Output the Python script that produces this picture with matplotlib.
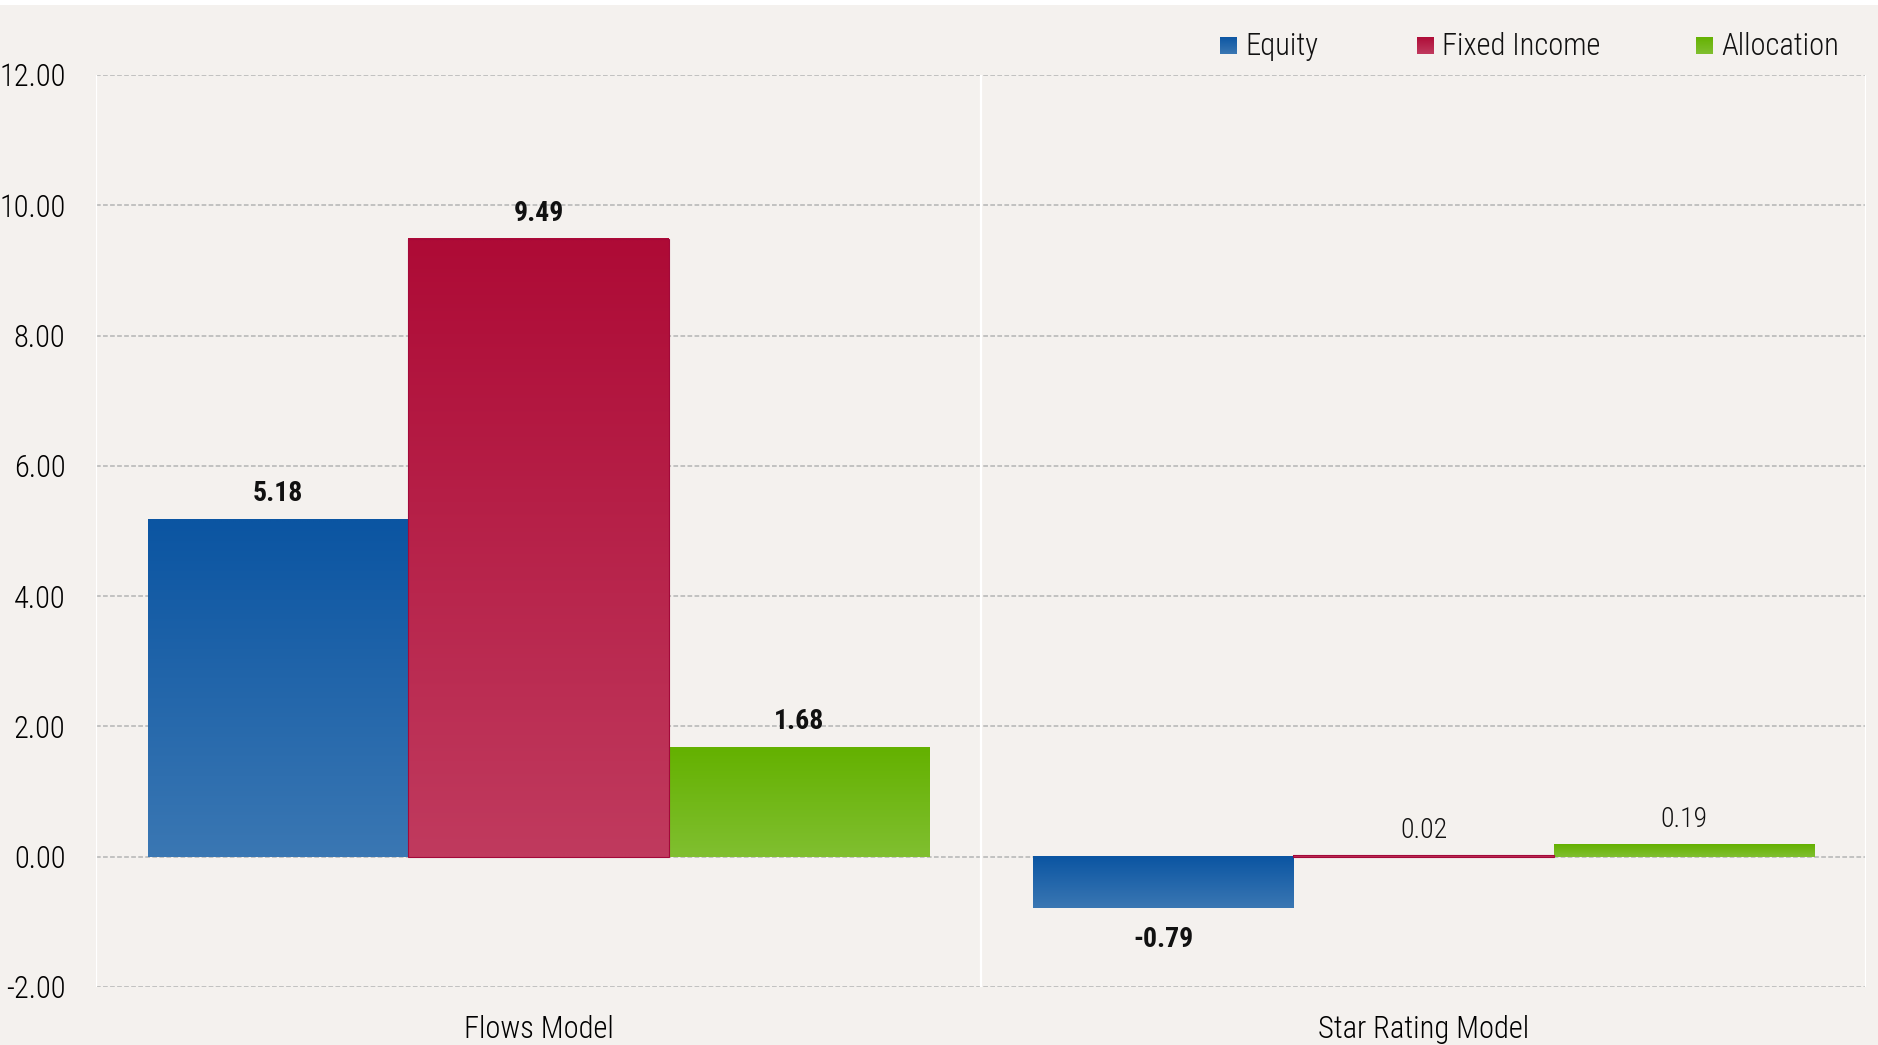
import numpy as np
import matplotlib
matplotlib.use("Agg")
import matplotlib.pyplot as plt
from matplotlib.colors import to_rgb
from matplotlib.patches import Rectangle

categories = ["Flows Model", "Star Rating Model"]
series_names = ["Equity", "Fixed Income", "Allocation"]
equity = [5.18, -0.79]
fixed_income = [9.49, 0.02]
allocation = [1.68, 0.19]
yticks = [-2, 0, 2, 4, 6, 8, 10, 12]

# top -> bottom gradient colours for each series
gradients = [("#0B55A2", "#3A77B3"), ("#AE0B36", "#C03A5E"), ("#64B100", "#80BF30")]

BG = "#F4F1EE"
plt.rcParams["font.family"] = ["Roboto Condensed", "Archivo Narrow", "Sofia Sans Condensed", "DejaVu Sans"]
plt.rcParams["text.color"] = "#111111"
LIGHT = 300


def gradient_image(top, bottom, n=64):
    t = np.linspace(0, 1, n)[:, None]
    c0, c1 = np.array(to_rgb(top)), np.array(to_rgb(bottom))
    return (c0 * (1 - t) + c1 * t)[:, None, :]


def fill_gradient(ax, bar, top, bottom):
    x0, w = bar.get_x(), bar.get_width()
    y0, h = bar.get_y(), bar.get_height()
    lo, hi = min(y0, y0 + h), max(y0, y0 + h)
    ax.imshow(gradient_image(top, bottom), extent=(x0, x0 + w, lo, hi),
              origin="upper", aspect="auto", interpolation="bilinear", zorder=2)


fig = plt.figure(figsize=(18.78, 10.45), dpi=100, facecolor=BG)
ax = fig.add_axes([96 / 1878, 1 - 987 / 1045, 1770 / 1878, 912 / 1045])
ax.set_facecolor(BG)

# thin white strip along the top edge
fig.patches.append(Rectangle((0, 1 - 5 / 1045), 1, 5 / 1045, transform=fig.transFigure,
                             facecolor="white", edgecolor="none", zorder=0))

x = np.arange(len(categories))
width = 0.294
all_series = [equity, fixed_income, allocation]
for i, (vals, (c_top, c_bot)) in enumerate(zip(all_series, gradients)):
    offs = (i - 1) * width
    bars = ax.bar(x + offs, vals, width, color="none", edgecolor="none", zorder=3)
    for b, v in zip(bars, vals):
        fill_gradient(ax, b, c_top, c_bot)
        if i == 1:
            ax.add_patch(Rectangle((b.get_x(), b.get_y()), b.get_width(), b.get_height(),
                                   facecolor="none", edgecolor="#A3093A", lw=0.8, zorder=3))
        weight = "bold" if abs(v) >= 0.5 else LIGHT
        if v >= 0:
            ax.annotate(f"{v:.2f}", (b.get_x() + b.get_width() / 2, v), xytext=(0, 8.5),
                        textcoords="offset points", ha="center", va="bottom",
                        fontsize=20, fontweight=weight, zorder=4)
        else:
            ax.annotate(f"{v:.2f}", (b.get_x() + b.get_width() / 2, v), xytext=(0, -13),
                        textcoords="offset points", ha="center", va="top",
                        fontsize=20, fontweight=weight, zorder=4)

ax.set_xlim(-0.5, len(categories) - 0.5)
ax.set_ylim(-2, 12)
ax.set_yticks(yticks)
ax.set_yticklabels([f"{t:.2f}" for t in yticks], fontweight=LIGHT)
ax.set_xticks(x)
ax.set_xticklabels(categories, fontweight=LIGHT)
ax.tick_params(axis="y", length=0, pad=22, labelsize=22)
ax.tick_params(axis="x", length=0, pad=20.5, labelsize=22)
for s in ax.spines.values():
    s.set_visible(False)

ax.yaxis.grid(True, color="#BDBDBD", linestyle=(0, (2.6, 1.3)), linewidth=1.3, zorder=0)
ax.set_axisbelow(True)
for xv in np.arange(-0.5, len(categories), 1.0):
    ax.axvline(xv, color="white", lw=1.6, zorder=1)

# legend: gradient squares + labels along the top
legend_x = [1220, 1417, 1696]
for name, (c_top, c_bot), lx in zip(series_names, gradients, legend_x):
    sq = fig.add_axes([lx / 1878, 1 - 54 / 1045, 17 / 1878, 17 / 1045])
    sq.imshow(gradient_image(c_top, c_bot), aspect="auto", interpolation="bilinear")
    sq.axis("off")
    fig.text((lx + 25) / 1878, 1 - 55 / 1045, name, fontsize=22, fontweight=LIGHT,
             va="baseline", ha="left")

fig.savefig("out.png", dpi=100, facecolor=BG)
